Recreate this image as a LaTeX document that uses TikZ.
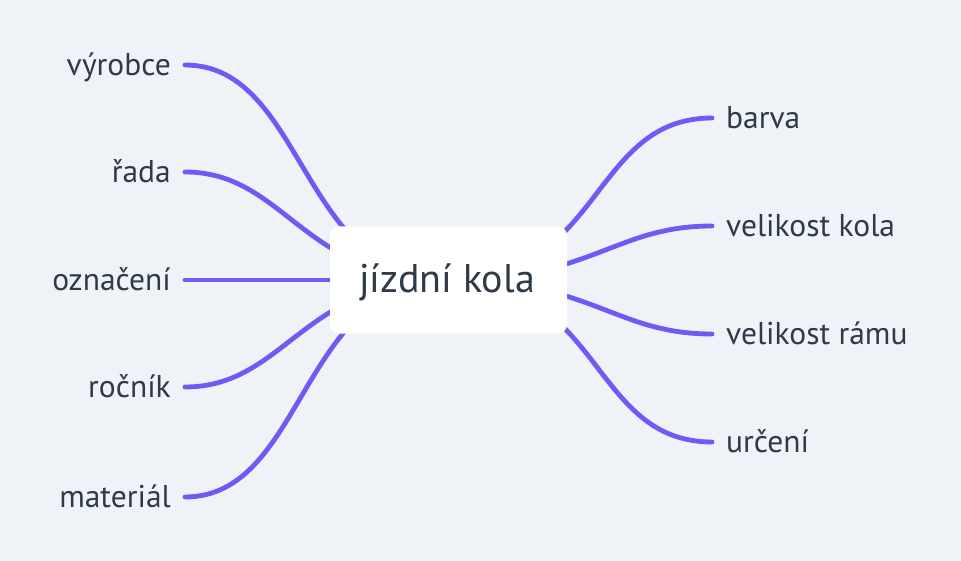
\documentclass[tikz,border=0pt]{standalone}
\usepackage{fontspec}
\setmainfont{PT Sans}
\definecolor{bg}{HTML}{EFF3F7}
\definecolor{edge}{HTML}{6A5CF5}
\definecolor{ink}{HTML}{2E3A48}
\begin{document}
\begin{tikzpicture}[x=1pt,y=-1pt,
  conn/.style={draw=edge,line width=4.8pt,line cap=round},
  lbl/.style={text=ink,font=\fontsize{31.5}{36}\selectfont,inner sep=0pt},
  hub/.style={fill=white,rounded corners=9pt,minimum width=237pt,minimum height=107pt,inner sep=0pt}]
\fill[bg] (0,0) rectangle (961,561);
\useasboundingbox (0,0) rectangle (961,561);
% endpoints
\coordinate (C) at (448,280);
\coordinate (l1) at (185,65);
\coordinate (l2) at (185,172);
\coordinate (l3) at (185,280);
\coordinate (l4) at (185,387);
\coordinate (l5) at (185,497);
\coordinate (r1) at (712,118);
\coordinate (r2) at (712,226);
\coordinate (r3) at (712,334);
\coordinate (r4) at (712,442);
\foreach \p/\a/\b in {l1/120/148,l2/100/145,l4/100/145,l5/120/148}{
  \draw[conn] (\p) .. controls +(\a,0) and +(-\b,0) .. (C);
}
\draw[conn] (l3) -- (C);
\foreach \p/\a/\b in {r1/122/155,r2/98/145,r3/98/145,r4/122/155}{
  \draw[conn] (\p) .. controls +(-\a,0) and +(\b,0) .. (C);
}
\node[hub] (hubbox) at (448.5,280) {};
\node[lbl,font=\fontsize{40}{44}\selectfont,anchor=base] (title) at (447,293) {jízdní kola};
\node[lbl,anchor=base east] (a1) at ([xshift=-14pt,yshift=-10.5pt]l1) {výrobce};
\node[lbl,anchor=base east] (a2) at ([xshift=-14pt,yshift=-10.5pt]l2) {řada};
\node[lbl,anchor=base east] (a3) at ([xshift=-14pt,yshift=-10.5pt]l3) {označení};
\node[lbl,anchor=base east] (a4) at ([xshift=-14pt,yshift=-10.5pt]l4) {ročník};
\node[lbl,anchor=base east] (a5) at ([xshift=-14pt,yshift=-10.5pt]l5) {materiál};
\node[lbl,anchor=base west] (b1) at ([xshift=14pt,yshift=-10.5pt]r1) {barva};
\node[lbl,anchor=base west] (b2) at ([xshift=14pt,yshift=-10.5pt]r2) {velikost kola};
\node[lbl,anchor=base west] (b3) at ([xshift=14pt,yshift=-10.5pt]r3) {velikost rámu};
\node[lbl,anchor=base west] (b4) at ([xshift=14pt,yshift=-10.5pt]r4) {určení};
\end{tikzpicture}
\end{document}
